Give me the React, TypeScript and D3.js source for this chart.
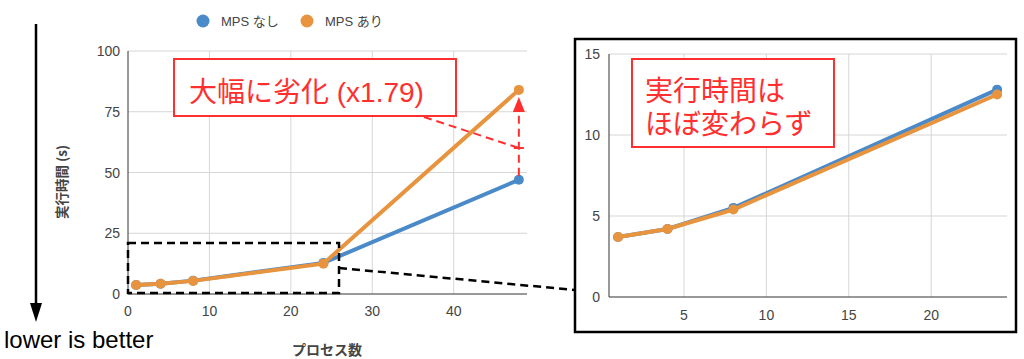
import React from "react";
import * as d3 from "d3";

const procs = [1, 4, 8, 24, 48];
const mpsOff = [3.7, 4.2, 5.5, 12.8, 47];
const mpsOn = [3.7, 4.2, 5.4, 12.5, 84];
const leftYTicks = [0, 25, 50, 75, 100];
const leftXTicks = [0, 10, 20, 30, 40];
const zoomProcs = [1, 4, 8, 24];
const zoomOff = [3.7, 4.2, 5.5, 12.8];
const zoomOn = [3.7, 4.2, 5.4, 12.5];
const rightYTicks = [0, 5, 10, 15];
const rightXTicks = [5, 10, 15, 20];
const seriesNames = ["MPS なし", "MPS あり"];

const BLUE = "#4a8ac9";
const ORANGE = "#e8943f";
const RED = "#ff2f2f";
const FONT = "'Liberation Sans', Arial, 'Noto Sans CJK JP', sans-serif";
const JP = "'Noto Sans CJK JP', 'Liberation Sans', sans-serif";

export default function App() {
  const lx = d3.scaleLinear().domain([0, 49]).range([128, 527]);
  const ly = d3.scaleLinear().domain([0, 100]).range([294, 51]);
  const rx = d3.scaleLinear().domain([0.45, 24.6]).range([609, 1007]);
  const ry = d3.scaleLinear().domain([0, 15]).range([297, 54]);

  const lLine = (vals: number[]) =>
    d3.line<number>().x((_, i) => lx(procs[i])).y((d) => ly(d))(vals) || "";
  const rLine = (vals: number[]) =>
    d3.line<number>().x((_, i) => rx(zoomProcs[i])).y((d) => ry(d))(vals) || "";

  const lx48 = lx(48);
  return (
    <svg width={1024} height={359} style={{ position: "absolute", left: 0, top: 0, background: "#fff" }}>
      {/* Legend */}
      <g fontFamily={FONT} fontSize={13} fill="#444">
        <circle cx={203} cy={21} r={6.5} fill={BLUE} />
        <text x={221} y={25.5}>{seriesNames[0]}</text>
        <circle cx={307} cy={21} r={6.5} fill={ORANGE} />
        <text x={325} y={25.5}>{seriesNames[1]}</text>
      </g>

      {/* Down arrow */}
      <line x1={36} y1={24} x2={36} y2={305} stroke="#000" strokeWidth={2.5} />
      <path d="M30,303 L42,303 L36,322 Z" fill="#000" />
      <text x={4} y={348} fontFamily={FONT} fontSize={24} fill="#000">lower is better</text>

      {/* Left chart grid */}
      <g stroke="#d6d6d6" strokeWidth={1}>
        {leftYTicks.filter((t) => t > 0).map((t) => (
          <line key={"ly" + t} x1={lx(0)} x2={527} y1={ly(t)} y2={ly(t)} />
        ))}
        {leftXTicks.filter((t) => t > 0).map((t) => (
          <line key={"lx" + t} x1={lx(t)} x2={lx(t)} y1={ly(100)} y2={ly(0)} />
        ))}
      </g>
      <line x1={lx(0)} x2={lx(0)} y1={ly(100)} y2={ly(0)} stroke="#333" />
      <line x1={lx(0)} x2={527} y1={ly(0)} y2={ly(0)} stroke="#333" />
      <g fontFamily={FONT} fontSize={14} fill="#444">
        {leftYTicks.map((t) => (
          <text key={"lyt" + t} x={120} y={ly(t) + 5} textAnchor="end">{t}</text>
        ))}
        {leftXTicks.map((t) => (
          <text key={"lxt" + t} x={lx(t)} y={316} textAnchor="middle">{t}</text>
        ))}
      </g>
      <text transform="translate(67,182) rotate(-90)" textAnchor="middle" fontFamily={JP} fontSize={13.5} fontWeight="bold" fill="#444">実行時間 (s)</text>
      <text x={327} y={355} textAnchor="middle" fontFamily={JP} fontSize={14} fontWeight="bold" fill="#444">プロセス数</text>

      {/* Left series */}
      <path d={lLine(mpsOff)} fill="none" stroke={BLUE} strokeWidth={4} />
      {mpsOff.map((v, i) => (
        <circle key={"lo" + i} cx={lx(procs[i])} cy={ly(v)} r={5} fill={BLUE} />
      ))}
      <path d={lLine(mpsOn)} fill="none" stroke={ORANGE} strokeWidth={4} />
      {mpsOn.map((v, i) => (
        <circle key={"ln" + i} cx={lx(procs[i])} cy={ly(v)} r={5} fill={ORANGE} />
      ))}

      {/* Black dashed zoom rectangle and connector */}
      <rect x={128} y={243} width={211} height={50} fill="none" stroke="#000" strokeWidth={2.5} strokeDasharray="8,5" />
      <line x1={339} y1={268} x2={575} y2={290} stroke="#000" strokeWidth={2.5} strokeDasharray="8,5" />

      {/* Red annotation */}
      <line x1={424} y1={117} x2={lx48} y2={148} stroke={RED} strokeWidth={2} strokeDasharray="8,5" />
      <line x1={lx48 - 5} x2={lx48 + 5} y1={148} y2={148} stroke={RED} strokeWidth={2} />
      <line x1={lx48} x2={lx48} y1={ly(mpsOff[4]) - 4} y2={110} stroke={RED} strokeWidth={2} strokeDasharray="8,5" />
      <path d={`M${lx48 - 6},112 L${lx48 + 6},112 L${lx48},97 Z`} fill={RED} />
      <rect x={174} y={59} width={282} height={57} fill="#fff" stroke={RED} strokeWidth={2} />
      <text x={189} y={102} fontFamily={FONT} fontSize={28} fill={RED}>大幅に劣化 (x1.79)</text>

      {/* Right panel */}
      <rect x={575} y={39} width={441} height={293} fill="#fff" stroke="#000" strokeWidth={2.5} />
      <g stroke="#d6d6d6" strokeWidth={1}>
        {rightYTicks.filter((t) => t > 0).map((t) => (
          <line key={"ry" + t} x1={609} x2={1007} y1={ry(t)} y2={ry(t)} />
        ))}
        {rightXTicks.map((t) => (
          <line key={"rx" + t} x1={rx(t)} x2={rx(t)} y1={ry(15)} y2={ry(0)} />
        ))}
      </g>
      <line x1={609} x2={609} y1={ry(15)} y2={ry(0)} stroke="#333" />
      <line x1={609} x2={1007} y1={ry(0)} y2={ry(0)} stroke="#333" />
      <g fontFamily={FONT} fontSize={14} fill="#444">
        {rightYTicks.map((t) => (
          <text key={"ryt" + t} x={600} y={ry(t) + 5} textAnchor="end">{t}</text>
        ))}
        {rightXTicks.map((t) => (
          <text key={"rxt" + t} x={rx(t)} y={320} textAnchor="middle">{t}</text>
        ))}
      </g>
      <path d={rLine(zoomOff)} fill="none" stroke={BLUE} strokeWidth={4} />
      {zoomOff.map((v, i) => (
        <circle key={"ro" + i} cx={rx(zoomProcs[i])} cy={ry(v)} r={5} fill={BLUE} />
      ))}
      <path d={rLine(zoomOn)} fill="none" stroke={ORANGE} strokeWidth={4} />
      {zoomOn.map((v, i) => (
        <circle key={"rn" + i} cx={rx(zoomProcs[i])} cy={ry(v)} r={5} fill={ORANGE} />
      ))}
      <rect x={632} y={59} width={202} height={88} fill="#fff" stroke={RED} strokeWidth={2} />
      <text x={645} y={101} fontFamily={JP} fontSize={28} fill={RED}>実行時間は</text>
      <text x={645} y={134} fontFamily={JP} fontSize={28} fill={RED}>ほぼ変わらず</text>
    </svg>
  );
}
